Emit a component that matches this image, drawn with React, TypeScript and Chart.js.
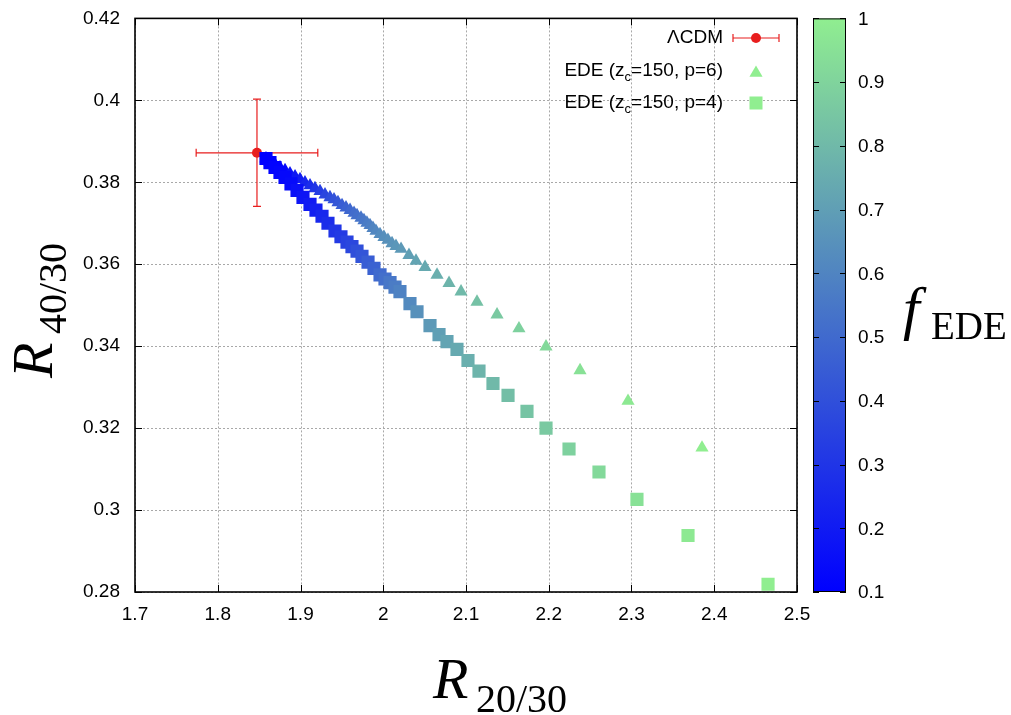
import React, { useEffect, useRef } from "react";
import { Chart, registerables } from "chart.js";

Chart.register(...registerables);

// ---------- data ----------
const xTickValues = [1.7, 1.8, 1.9, 2.0, 2.1, 2.2, 2.3, 2.4, 2.5];
const xTickLabels = ["1.7", "1.8", "1.9", "2", "2.1", "2.2", "2.3", "2.4", "2.5"];
const yTickValues = [0.28, 0.3, 0.32, 0.34, 0.36, 0.38, 0.4, 0.42];
const yTickLabels = ["0.28", "0.3", "0.32", "0.34", "0.36", "0.38", "0.4", "0.42"];
const cbTickValues = [0.1, 0.2, 0.3, 0.4, 0.5, 0.6, 0.7, 0.8, 0.9, 1.0];
const cbTickLabels = ["0.1", "0.2", "0.3", "0.4", "0.5", "0.6", "0.7", "0.8", "0.9", "1"];

// EDE (z_c=150, p=6) -- triangles
const p6X = [
  1.8583, 1.8631, 1.8692, 1.8752, 1.8813, 1.8873, 1.8934, 1.8994, 1.9054, 1.9115, 1.9175,
  1.9236, 1.9296, 1.9356, 1.9405, 1.9453, 1.9502, 1.955, 1.9599, 1.9647, 1.9683, 1.9731,
  1.9767, 1.9803, 1.984, 1.9876, 1.9912, 1.9961, 2.0009, 2.0057, 2.0106, 2.0154, 2.0215,
  2.0311, 2.0396, 2.0505, 2.065, 2.0795, 2.094, 2.1133, 2.1375, 2.164, 2.1967, 2.2378,
  2.2958, 2.3852,
];
const p6Y = [
  0.3858, 0.385, 0.3843, 0.3836, 0.3829, 0.3821, 0.3814, 0.3807, 0.3799, 0.3792, 0.3785,
  0.3778, 0.377, 0.3763, 0.3758, 0.3751, 0.3744, 0.3738, 0.3732, 0.3725, 0.3719, 0.3713,
  0.3707, 0.3701, 0.3695, 0.3688, 0.3681, 0.3673, 0.3666, 0.3659, 0.3651, 0.3644, 0.3637,
  0.3622, 0.3608, 0.3593, 0.3574, 0.3554, 0.3533, 0.3508, 0.3477, 0.3443, 0.3399, 0.3341,
  0.3266, 0.3152,
];
const p6F = [
  0.1, 0.11, 0.12, 0.13, 0.15, 0.17, 0.19, 0.21, 0.24, 0.27, 0.3,
  0.33, 0.36, 0.39, 0.41, 0.43, 0.45, 0.47, 0.49, 0.51, 0.52, 0.54,
  0.55, 0.57, 0.58, 0.6, 0.61, 0.63, 0.64, 0.65, 0.66, 0.67, 0.68,
  0.7, 0.72, 0.74, 0.76, 0.78, 0.8, 0.83, 0.86, 0.89, 0.92, 0.95,
  0.98, 1.0,
];

// EDE (z_c=150, p=4) -- squares
const p4X = [
  1.8583, 1.8631, 1.8692, 1.8752, 1.8813, 1.8885, 1.8958, 1.903, 1.9115, 1.9187, 1.926,
  1.9332, 1.9417, 1.9489, 1.9562, 1.9622, 1.9683, 1.9743, 1.9816, 1.9888, 1.9961, 2.0021,
  2.0082, 2.0142, 2.0202, 2.0323, 2.0408, 2.0565, 2.0674, 2.077, 2.0891, 2.1024, 2.1157,
  2.1326, 2.1508, 2.1737, 2.1967, 2.2245, 2.2607, 2.3066, 2.3683, 2.465,
];
const p4Y = [
  0.3858, 0.3848, 0.3836, 0.3824, 0.3812, 0.3796, 0.378, 0.3763, 0.3746, 0.3732, 0.3717,
  0.37, 0.3681, 0.3667, 0.3654, 0.3643, 0.3632, 0.3619, 0.3605, 0.359, 0.3574, 0.3564,
  0.3555, 0.3544, 0.3533, 0.3504, 0.3484, 0.345, 0.3428, 0.3411, 0.3392, 0.3365, 0.3339,
  0.3309, 0.328, 0.3241, 0.32, 0.3149, 0.3093, 0.3026, 0.2938, 0.2819,
];
const p4F = [
  0.1, 0.1, 0.11, 0.12, 0.13, 0.14, 0.16, 0.18, 0.2, 0.22, 0.25,
  0.27, 0.3, 0.32, 0.35, 0.37, 0.4, 0.42, 0.45, 0.47, 0.5, 0.52,
  0.55, 0.57, 0.59, 0.62, 0.65, 0.68, 0.7, 0.72, 0.74, 0.76, 0.78,
  0.8, 0.82, 0.84, 0.86, 0.89, 0.92, 0.95, 0.98, 1.0,
];

// ΛCDM with error bars
const lcdmX = [1.8474];
const lcdmY = [0.3872];
const lcdmErrX = [0.0735];
const lcdmErrY = [0.0131];

const fMin = 0.1;
const fMax = 1.0;

// ---------- styles ----------
const FONT = '"Liberation Sans", Arial, sans-serif';
const SERIF = '"Liberation Serif", "Times New Roman", serif';
const RED = "rgb(232,30,30)";
const LOW = [0, 0, 255];
const HIGH = [144, 238, 144];
const TRI_R = 7.6;
const SQ_R = 9.3;

function fColor(f: number): string {
  const t = Math.max(0, Math.min(1, (f - fMin) / (fMax - fMin)));
  const c = LOW.map((l, i) => Math.round(l + (HIGH[i] - l) * t));
  return `rgb(${c[0]},${c[1]},${c[2]})`;
}

function drawTriangle(ctx: CanvasRenderingContext2D, x: number, y: number, r: number) {
  ctx.beginPath();
  for (let k = 0; k < 3; k++) {
    const a = (k * 2 * Math.PI) / 3;
    const px = x + Math.sin(a) * r;
    const py = y - Math.cos(a) * r;
    if (k === 0) ctx.moveTo(px, py);
    else ctx.lineTo(px, py);
  }
  ctx.closePath();
  ctx.fill();
}

const customPlugin = {
  id: "customDraw",
  beforeDatasetsDraw(chart: any) {
    const { ctx, chartArea: a, scales } = chart;
    const x = scales.x;
    const y = scales.y;
    ctx.save();
    ctx.strokeStyle = "#a8a8a8";
    ctx.lineWidth = 1;
    ctx.setLineDash([2, 2]);
    xTickValues.forEach((v) => {
      const px = Math.round(x.getPixelForValue(v)) + 0.5;
      ctx.beginPath();
      ctx.moveTo(px, a.top);
      ctx.lineTo(px, a.bottom);
      ctx.stroke();
    });
    yTickValues.forEach((v) => {
      const py = Math.round(y.getPixelForValue(v)) + 0.5;
      ctx.beginPath();
      ctx.moveTo(a.left, py);
      ctx.lineTo(a.right, py);
      ctx.stroke();
    });
    ctx.setLineDash([]);
    // error bars
    ctx.strokeStyle = RED;
    ctx.lineWidth = 1.2;
    for (let i = 0; i < lcdmX.length; i++) {
      const cx = x.getPixelForValue(lcdmX[i]);
      const cy = y.getPixelForValue(lcdmY[i]);
      const x0 = x.getPixelForValue(lcdmX[i] - lcdmErrX[i]);
      const x1 = x.getPixelForValue(lcdmX[i] + lcdmErrX[i]);
      const y0 = y.getPixelForValue(lcdmY[i] + lcdmErrY[i]);
      const y1 = y.getPixelForValue(lcdmY[i] - lcdmErrY[i]);
      const cap = 4;
      ctx.beginPath();
      ctx.moveTo(x0, cy); ctx.lineTo(x1, cy);
      ctx.moveTo(x0, cy - cap); ctx.lineTo(x0, cy + cap);
      ctx.moveTo(x1, cy - cap); ctx.lineTo(x1, cy + cap);
      ctx.moveTo(cx, y0); ctx.lineTo(cx, y1);
      ctx.moveTo(cx - cap, y0); ctx.lineTo(cx + cap, y0);
      ctx.moveTo(cx - cap, y1); ctx.lineTo(cx + cap, y1);
      ctx.stroke();
    }
    ctx.restore();
  },
  afterDatasetsDraw(chart: any) {
    const { ctx, chartArea: a, scales } = chart;
    const x = scales.x;
    const y = scales.y;
    ctx.save();
    ctx.strokeStyle = "#000";
    ctx.lineWidth = 1;
    const tl = 7;
    ctx.beginPath();
    xTickValues.forEach((v) => {
      const px = Math.round(x.getPixelForValue(v)) + 0.5;
      ctx.moveTo(px, a.bottom); ctx.lineTo(px, a.bottom - tl);
      ctx.moveTo(px, a.top); ctx.lineTo(px, a.top + tl);
    });
    yTickValues.forEach((v) => {
      const py = Math.round(y.getPixelForValue(v)) + 0.5;
      ctx.moveTo(a.left, py); ctx.lineTo(a.left + tl, py);
      ctx.moveTo(a.right, py); ctx.lineTo(a.right - tl, py);
    });
    ctx.stroke();
    ctx.lineWidth = 1.6;
    ctx.strokeRect(a.left, a.top, a.right - a.left, a.bottom - a.top);
    ctx.restore();
  },
  afterDraw(chart: any) {
    const { ctx, chartArea: a } = chart;
    ctx.save();
    // ---- colour bar ----
    const cbL = 813;
    const cbR = 846;
    const cbT = a.top;
    const cbB = a.bottom;
    const g = ctx.createLinearGradient(0, cbB, 0, cbT);
    g.addColorStop(0, fColor(fMin));
    g.addColorStop(1, fColor(fMax));
    ctx.fillStyle = g;
    ctx.fillRect(cbL, cbT, cbR - cbL, cbB - cbT);
    ctx.strokeStyle = "#000";
    ctx.lineWidth = 1;
    ctx.strokeRect(cbL + 0.5, cbT + 0.5, cbR - cbL - 1, cbB - cbT - 1);
    ctx.fillStyle = "#000";
    ctx.font = `19px ${FONT}`;
    ctx.textAlign = "left";
    ctx.textBaseline = "middle";
    cbTickValues.forEach((v, i) => {
      const py = cbB - ((v - fMin) / (fMax - fMin)) * (cbB - cbT);
      const pr = Math.round(py) + 0.5;
      ctx.beginPath();
      ctx.moveTo(cbL, pr); ctx.lineTo(cbL + 6, pr);
      ctx.moveTo(cbR, pr); ctx.lineTo(cbR - 6, pr);
      ctx.stroke();
      ctx.fillText(cbTickLabels[i], 858, py + 1);
    });

    // ---- colour bar title f_EDE ----
    ctx.textBaseline = "alphabetic";
    ctx.font = `italic 60px ${SERIF}`;
    ctx.fillText("f", 903, 328);
    ctx.font = `39px ${SERIF}`;
    ctx.fillText("EDE", 931, 339);

    // ---- axis titles ----
    ctx.font = `italic 58px ${SERIF}`;
    ctx.fillText("R", 433, 698);
    ctx.font = `40px ${SERIF}`;
    ctx.fillText("20/30", 476, 712);

    ctx.save();
    ctx.rotate(-Math.PI / 2);
    ctx.font = `italic 58px ${SERIF}`;
    ctx.fillText("R", -378, 52);
    ctx.font = `40px ${SERIF}`;
    ctx.fillText("40/30", -334, 66);
    ctx.restore();

    // ---- legend ----
    const textRight = 723;
    const symX = 756;
    const rows = [38, 71, 103];
    const legendParts: [string, string, string][] = [
      ["ΛCDM", "", ""],
      ["EDE (z", "c", "=150, p=6)"],
      ["EDE (z", "c", "=150, p=4)"],
    ];
    legendParts.forEach((parts, i) => {
      const ry = rows[i];
      ctx.font = `19px ${FONT}`;
      const w0 = ctx.measureText(parts[0]).width;
      const w2 = ctx.measureText(parts[2]).width;
      ctx.font = `13px ${FONT}`;
      const w1 = ctx.measureText(parts[1]).width;
      let sx = textRight - (w0 + w1 + w2);
      ctx.textBaseline = "middle";
      ctx.fillStyle = "#000";
      ctx.font = `19px ${FONT}`;
      ctx.fillText(parts[0], sx, ry);
      sx += w0;
      if (parts[1]) {
        ctx.font = `13px ${FONT}`;
        ctx.fillText(parts[1], sx, ry + 6);
        sx += w1;
      }
      ctx.font = `19px ${FONT}`;
      ctx.fillText(parts[2], sx, ry);
    });
    // ΛCDM symbol
    ctx.strokeStyle = RED;
    ctx.lineWidth = 1.2;
    ctx.beginPath();
    ctx.moveTo(733, rows[0]); ctx.lineTo(779, rows[0]);
    ctx.moveTo(733, rows[0] - 4); ctx.lineTo(733, rows[0] + 4);
    ctx.moveTo(779, rows[0] - 4); ctx.lineTo(779, rows[0] + 4);
    ctx.stroke();
    ctx.fillStyle = RED;
    ctx.beginPath();
    ctx.arc(symX, rows[0], 5, 0, Math.PI * 2);
    ctx.fill();
    // triangle symbol
    ctx.fillStyle = fColor(fMax);
    drawTriangle(ctx, symX, rows[1] + 2, TRI_R);
    // square symbol
    ctx.fillRect(symX - 6.5, rows[2] - 6.5, 13, 13);

    ctx.restore();
  },
};

export default function App() {
  const ref = useRef<HTMLCanvasElement>(null);
  useEffect(() => {
    if (!ref.current) return;
    const chart = new Chart(ref.current, {
      type: "scatter",
      data: {
        datasets: [
          {
            label: "ΛCDM",
            data: lcdmX.map((v, i) => ({ x: v, y: lcdmY[i] })),
            pointStyle: "circle",
            pointRadius: 5,
            backgroundColor: RED,
            borderWidth: 0,
            order: 3,
          },
          {
            label: "EDE (z_c=150, p=6)",
            data: p6X.map((v, i) => ({ x: v, y: p6Y[i] })),
            pointStyle: "triangle",
            pointRadius: TRI_R,
            pointBackgroundColor: p6F.map(fColor),
            pointBorderWidth: 0,
            borderWidth: 0,
            order: 2,
          },
          {
            label: "EDE (z_c=150, p=4)",
            data: p4X.map((v, i) => ({ x: v, y: p4Y[i] })),
            pointStyle: "rect",
            pointRadius: SQ_R,
            pointBackgroundColor: p4F.map(fColor),
            pointBorderWidth: 0,
            borderWidth: 0,
            order: 1,
          },
        ],
      },
      options: {
        animation: false,
        responsive: false,
        maintainAspectRatio: false,
        layout: { padding: { left: 0, right: 214, top: 15, bottom: 0 } },
        plugins: { legend: { display: false }, tooltip: { enabled: false } },
        scales: {
          x: {
            type: "linear",
            min: 1.7,
            max: 2.5,
            grid: { display: false },
            border: { display: false },
            afterBuildTicks: (s: any) => {
              s.ticks = xTickValues.map((v) => ({ value: v }));
            },
            afterFit: (s: any) => {
              s.height = 123;
            },
            ticks: {
              autoSkip: false,
              maxRotation: 0,
              padding: 3,
              color: "#000",
              font: { family: FONT, size: 19 },
              callback: (_v: any, i: number) => xTickLabels[i],
            },
          },
          y: {
            type: "linear",
            min: 0.28,
            max: 0.42,
            grid: { display: false },
            border: { display: false },
            afterBuildTicks: (s: any) => {
              s.ticks = yTickValues.map((v) => ({ value: v }));
            },
            afterFit: (s: any) => {
              s.width = 135;
            },
            ticks: {
              autoSkip: false,
              padding: 7,
              color: "#000",
              font: { family: FONT, size: 19 },
              callback: (_v: any, i: number) => yTickLabels[i],
            },
          },
        },
      },
      plugins: [customPlugin],
    } as any);
    return () => chart.destroy();
  }, []);
  return (
    <div style={{ position: "absolute", left: 0, top: 0, width: 1011, height: 715, background: "#fff" }}>
      <canvas ref={ref} width={1011} height={715} style={{ display: "block" }} />
    </div>
  );
}
